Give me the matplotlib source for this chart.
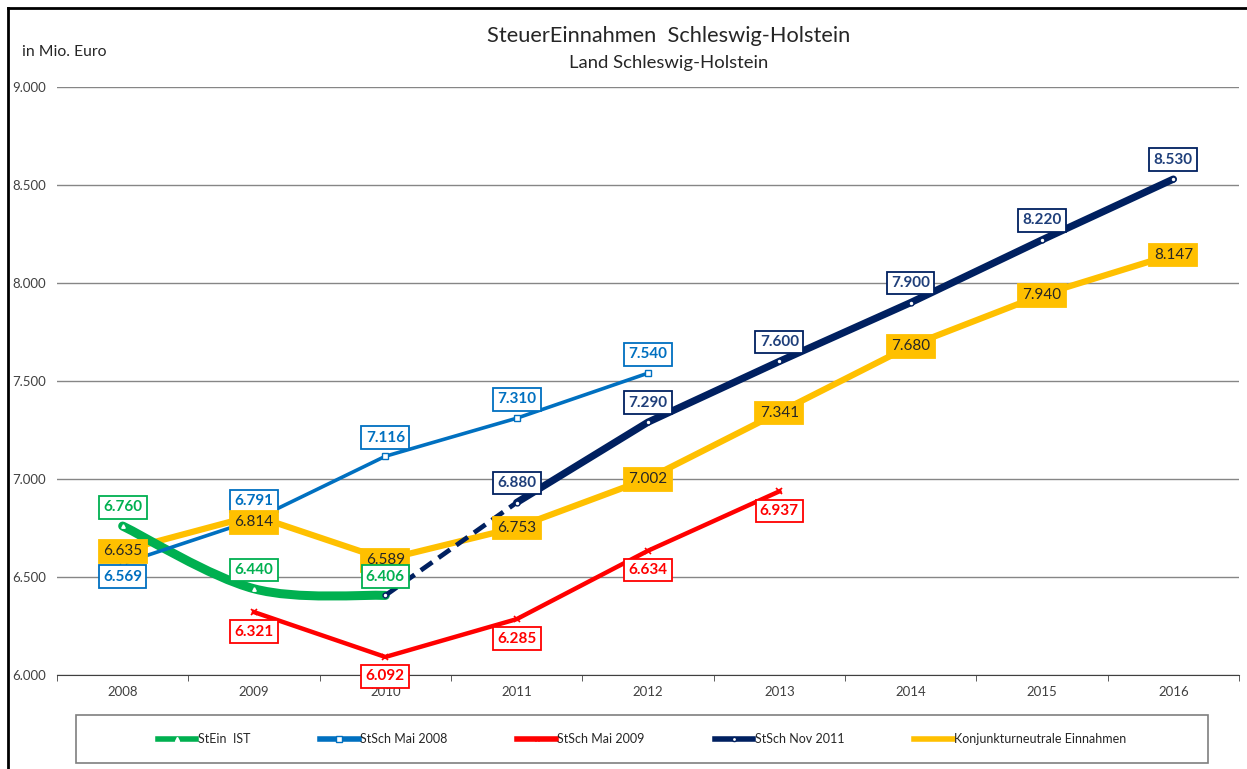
import matplotlib.pyplot as plt
import numpy as np
from matplotlib.path import Path
from matplotlib.patches import PathPatch, Rectangle
from matplotlib.lines import Line2D

plt.rcParams['font.family'] = ['Lato', 'DejaVu Sans']

# Daten (Mio. Euro)
years = [2008, 2009, 2010, 2011, 2012, 2013, 2014, 2015, 2016]
ist_years = [2008, 2009, 2010]
ist_vals = [6760, 6440, 6406]
mai08_years = [2008, 2009, 2010, 2011, 2012]
mai08_vals = [6569, 6791, 7116, 7310, 7540]
mai09_years = [2009, 2010, 2011, 2012, 2013]
mai09_vals = [6321, 6092, 6285, 6634, 6937]
nov11_years = [2010, 2011, 2012, 2013, 2014, 2015, 2016]
nov11_vals = [6406, 6880, 7290, 7600, 7900, 8220, 8530]
kon_years = [2008, 2009, 2010, 2011, 2012, 2013, 2014, 2015, 2016]
kon_vals = [6635, 6814, 6589, 6753, 7002, 7341, 7680, 7940, 8147]

c_green = '#00B050'
c_blue = '#0070C0'
c_red = '#FF0000'
c_navy = '#002060'
c_yellow = '#FFC000'

W, H = 1247, 769


def fmt(v):
    return f'{v:,}'.replace(',', '.')


fig = plt.figure(figsize=(W / 100, H / 100), dpi=100)
ax = fig.add_axes([57 / W, 1 - 675 / H, (1239 - 57) / W, (675 - 87) / H])

# StEin IST - geglaettet (Bezier wie Excel)
px = np.array(ist_years, dtype=float)
py = np.array(ist_vals, dtype=float)
verts = [(px[0], py[0])]
codes = [Path.MOVETO]
n = len(px)
for i in range(n - 1):
    p0 = i - 1 if i > 0 else 0
    p3 = i + 2 if i + 2 < n else n - 1
    c1 = (px[i] + (px[i + 1] - px[p0]) / 6, py[i] + (py[i + 1] - py[p0]) / 6)
    c2 = (px[i + 1] - (px[p3] - px[i]) / 6, py[i + 1] - (py[p3] - py[i]) / 6)
    verts += [c1, c2, (px[i + 1], py[i + 1])]
    codes += [Path.CURVE4] * 3
ax.add_patch(PathPatch(Path(verts, codes), fill=False, edgecolor=c_green, lw=6.5,
                       capstyle='round', zorder=4))
ax.plot(ist_years, ist_vals, ls='none', marker='^', ms=2.5, mfc='white', mec='white', zorder=5)

# Konjunkturneutrale Einnahmen
ax.plot(kon_years, kon_vals, color=c_yellow, lw=4.5, zorder=3, solid_capstyle='butt')

# StSch Mai 2008
ax.plot(mai08_years, mai08_vals, color=c_blue, lw=2.6, marker='s', ms=4, mfc='white',
        mec=c_blue, mew=1, zorder=4)

# StSch Mai 2009
ax.plot(mai09_years, mai09_vals, color=c_red, lw=3.2, marker='x', ms=4, mec=c_red, mew=1.2, zorder=4)

# StSch Nov 2011 (erstes Stueck gestrichelt)
ax.plot(nov11_years[:2], nov11_vals[:2], color=c_navy, lw=3.4, ls=(0, (3, 1.6)), zorder=5)
ax.plot(nov11_years[1:], nov11_vals[1:], color=c_navy, lw=5.2, solid_capstyle='round', zorder=5)
ax.plot(nov11_years, nov11_vals, ls='none', marker='o', ms=3.5, mfc='white', mec=c_navy, mew=1, zorder=6)


# Datenbeschriftungen
def label(x, y, dy, color, edge, face, bold=True, z=8):
    ax.annotate(fmt(y), (x, y), xytext=(0, dy), textcoords='offset points',
                ha='center', va='center', fontsize=11, color=color,
                fontweight='bold' if bold else 'normal', zorder=z,
                bbox=dict(boxstyle='square,pad=0.28', fc=face, ec=edge, lw=1.3))


for x, y in zip(ist_years, ist_vals):
    label(x, y, 13.5, c_green, c_green, 'white')
for i, (x, y) in enumerate(zip(mai08_years, mai08_vals)):
    label(x, y, -9.5 if i == 0 else 13.5, c_blue, c_blue, 'white')
for x, y in zip(mai09_years, mai09_vals):
    label(x, y, -14, c_red, c_red, 'white')
for x, y in zip(nov11_years[1:], nov11_vals[1:]):
    label(x, y, 14, '#1F3F7A', c_navy, 'white')
for x, y in zip(kon_years, kon_vals):
    label(x, y, -5 if x == 2009 else -0.5, '#262626', c_yellow, c_yellow, bold=False,
          z=7.5 if x == 2010 else 9)

# Achsen
ax.set_xlim(2007.5, 2016.5)
ax.set_ylim(6000, 9000)
ax.set_yticks(range(6000, 9001, 500))
ax.set_yticklabels([fmt(v) for v in range(6000, 9001, 500)])
ax.set_xticks(years)
ax.set_xticks(np.arange(2007.5, 2017, 1), minor=True)
ax.tick_params(axis='x', which='major', length=0, pad=8, labelsize=9.5, labelcolor='#404040')
ax.tick_params(axis='x', which='minor', length=4, color='#404040', direction='out')
ax.tick_params(axis='y', length=0, pad=8, labelsize=9.5, labelcolor='#404040')
ax.grid(axis='y', color='#868686', lw=1)
ax.set_axisbelow(True)
for s in ['top', 'right', 'left']:
    ax.spines[s].set_visible(False)
ax.spines['bottom'].set_color('#404040')
ax.set_facecolor('none')

fig.text(22 / W, 1 - 52 / H, 'in Mio. Euro', fontsize=11.3, color='#262626', va='center')
fig.text(669 / W, 1 - 36 / H, 'SteuerEinnahmen  Schleswig-Holstein', fontsize=15.7,
         color='#262626', ha='center', va='center')
fig.text(669 / W, 1 - 63 / H, 'Land Schleswig-Holstein', fontsize=13.3,
         color='#262626', ha='center', va='center')

# Legende
handles = [
    Line2D([], [], color=c_green, lw=4, marker='^', ms=3, mfc='white', mec='white'),
    Line2D([], [], color=c_blue, lw=4, marker='s', ms=4, mfc='white', mec=c_blue),
    Line2D([], [], color=c_red, lw=4, marker='x', ms=3.5, mec=c_red),
    Line2D([], [], color=c_navy, lw=4, marker='o', ms=3, mfc='white', mec=c_navy),
    Line2D([], [], color=c_yellow, lw=4),
]
names = ['StEin  IST', 'StSch Mai 2008', 'StSch Mai 2009', 'StSch Nov 2011',
         'Konjunkturneutrale Einnahmen']
fig.add_artist(Rectangle((76 / W, 1 - 763 / H), (1208 - 76) / W, (763 - 715) / H,
                         transform=fig.transFigure, fill=False, ec='#7f7f7f', lw=1.2))
leg = fig.legend(handles, names, ncol=5, loc='center',
                 bbox_to_anchor=(642 / W, 1 - 739 / H),
                 fontsize=9, handlelength=3.1, handletextpad=0.1, columnspacing=5.6,
                 frameon=False, borderaxespad=0)
for t in leg.get_texts():
    t.set_color('#262626')

# Rahmen
fig.add_artist(Line2D([8 / W, 8 / W], [0, 1 - 8 / H], transform=fig.transFigure,
                      color='black', lw=2))
fig.add_artist(Line2D([8 / W, 1], [1 - 8 / H, 1 - 8 / H], transform=fig.transFigure,
                      color='black', lw=2))

plt.savefig('out.png', dpi=100)
